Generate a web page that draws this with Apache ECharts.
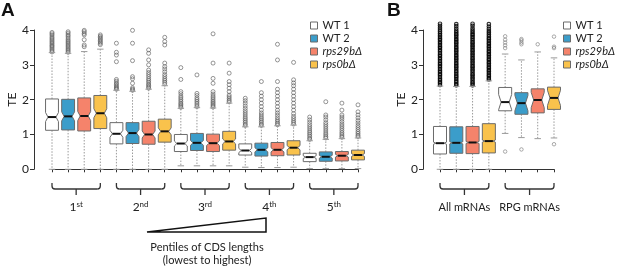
<!DOCTYPE html>
<html>
<head>
<meta charset="utf-8">
<script src="https://cdn.jsdelivr.net/npm/echarts@6/dist/echarts.min.js"></script>
<style>
html, body { margin: 0; padding: 0; background: #fff; }
#chart { width: 617px; height: 266px; }
</style>
</head>
<body>
<div id="chart"></div>
<script>
const genotypes = ['WT 1', 'WT 2', 'rps29bΔ', 'rps0bΔ'];
const groupsA = ['1st', '2nd', '3rd', '4th', '5th'];
const groupsB = ['All mRNAs', 'RPG mRNAs'];

// [lower whisker, Q1, median, Q3, upper whisker] for each group
const wt1A = [[0, 1.12, 1.5, 2.02, 3.35], [0, 0.73, 1.02, 1.34, 2.27], [0.1, 0.51, 0.74, 1.0, 1.75], [0.06, 0.41, 0.54, 0.73, 1.22], [0.02, 0.22, 0.35, 0.46, 0.82]];
const wt2A = [[0, 1.13, 1.52, 2.01, 3.33], [0, 0.74, 1.04, 1.34, 2.24], [0.1, 0.54, 0.76, 1.03, 1.77], [0.05, 0.38, 0.56, 0.75, 1.22], [0.02, 0.23, 0.36, 0.5, 0.86]];
const rps29A = [[0, 1.1, 1.53, 2.05, 3.38], [0, 0.72, 1.0, 1.38, 2.3], [0.1, 0.51, 0.75, 1.01, 1.76], [0.05, 0.39, 0.56, 0.77, 1.25], [0.02, 0.24, 0.39, 0.51, 0.88]];
const rps0A = [[0, 1.17, 1.61, 2.12, 3.45], [0, 0.78, 1.09, 1.44, 2.4], [0.1, 0.55, 0.8, 1.09, 1.9], [0.06, 0.41, 0.62, 0.82, 1.27], [0.02, 0.27, 0.41, 0.55, 0.9]];
const notchA = [0.13, 0.1, 0.07, 0.06, 0.04];

const wt1B = [[0, 0.44, 0.75, 1.23, 2.39], [1.03, 1.68, 1.93, 2.35, 3.31]];
const wt2B = [[0, 0.46, 0.76, 1.22, 2.38], [0.91, 1.58, 1.9, 2.2, 3.14]];
const rps29B = [[0, 0.45, 0.77, 1.23, 2.38], [0.88, 1.62, 1.99, 2.31, 3.37]];
const rps0B = [[0, 0.47, 0.81, 1.31, 2.54], [0.9, 1.72, 2.05, 2.36, 3.2]];
const notchB = [0.03, 0.22];

// outliers
const wt1OutA = [
  [3.37, 3.41, 3.45, 3.49, 3.53, 3.56, 3.6, 3.64, 3.68, 3.72, 3.76, 3.8, 3.85, 3.89, 3.93],
  [2.3, 2.33, 2.36, 2.4, 2.44, 2.48, 2.53, 2.58, 3.09, 3.28, 3.36, 3.62],
  [1.78, 1.82, 1.86, 1.9, 1.95, 2.0, 2.05, 2.1, 2.17, 2.23, 2.58, 2.92],
  [1.26, 1.3, 1.35, 1.4, 1.45, 1.5, 1.56, 1.62, 1.68, 1.75, 1.82, 1.9, 1.97, 2.04],
  [0.86, 0.9, 0.95, 1.0, 1.05, 1.1, 1.16, 1.22, 1.28, 1.35, 1.42, 1.5]
];
const wt2OutA = [
  [3.36, 3.4, 3.44, 3.48, 3.52, 3.56, 3.6, 3.64, 3.68, 3.72, 3.77, 3.82, 3.86, 3.91, 3.95],
  [2.27, 2.3, 2.34, 2.47, 2.6, 2.66, 3.12, 3.62, 3.99],
  [1.8, 1.85, 1.9, 1.95, 2.0, 2.05, 2.12, 2.18, 2.71],
  [1.26, 1.3, 1.35, 1.4, 1.45, 1.5, 1.56, 1.62, 1.7, 1.8, 1.9, 2.0, 2.1, 2.2, 2.52],
  [0.9, 0.94, 0.99, 1.04, 1.1, 1.16, 1.22, 1.28, 1.34, 1.42, 1.5, 1.56, 1.94]
];
const rps29OutA = [
  [3.52, 3.57, 3.72, 3.86, 3.9, 3.95, 3.99],
  [2.33, 2.37, 2.41, 2.45, 2.5, 2.55, 2.6, 2.66, 2.72, 2.78, 2.85, 3.0, 3.14, 3.33, 3.43],
  [1.79, 1.83, 1.87, 1.91, 1.95, 2.0, 2.05, 2.1, 2.16, 2.23, 2.47, 2.61, 3.05, 3.89],
  [1.28, 1.32, 1.37, 1.42, 1.48, 1.55, 1.62, 1.7, 1.8, 1.9, 2.0, 2.1, 2.2, 2.3, 2.52, 3.14, 3.59],
  [0.92, 0.96, 1.01, 1.06, 1.12, 1.18, 1.24, 1.3, 1.37, 1.44, 1.5, 1.56, 1.7, 1.9]
];
const rps0OutA = [
  [3.58, 3.62, 3.66, 3.7, 3.74, 3.78, 3.82, 3.86],
  [2.45, 2.5, 2.55, 2.6, 2.66, 2.72, 2.8, 2.88, 2.95, 3.05, 3.57, 3.67, 3.79],
  [1.94, 1.98, 2.03, 2.08, 2.13, 2.23, 2.33, 2.43, 2.52, 2.76, 3.05],
  [1.3, 1.35, 1.4, 1.46, 1.52, 1.6, 1.7, 1.8, 1.9, 2.0, 2.1, 2.2, 2.3, 2.4, 2.48, 2.57, 3.07],
  [0.94, 0.98, 1.03, 1.08, 1.14, 1.2, 1.26, 1.33, 1.4, 1.48, 1.56, 1.65, 1.85]
];
const wt1OutB = [
  [2.42, 2.47, 2.51, 2.56, 2.6, 2.65, 2.7, 2.74, 2.79, 2.83, 2.88, 2.93, 2.97, 3.02, 3.06, 3.11, 3.16, 3.2, 3.25, 3.29, 3.34, 3.39, 3.43, 3.48, 3.52, 3.57, 3.62, 3.66, 3.71, 3.75, 3.8, 3.85, 3.9, 3.95, 4.0, 4.06, 4.12, 4.18],
  [0.51, 3.48, 3.56, 3.64, 3.72, 3.82]
];
const wt2OutB = [
  [2.41, 2.45, 2.5, 2.54, 2.59, 2.64, 2.68, 2.73, 2.78, 2.82, 2.87, 2.92, 2.96, 3.01, 3.05, 3.1, 3.15, 3.19, 3.24, 3.28, 3.33, 3.38, 3.42, 3.47, 3.51, 3.56, 3.61, 3.65, 3.7, 3.74, 3.79, 3.84, 3.88, 3.93, 3.98, 4.04, 4.11, 4.17],
  [0.57, 3.59, 3.64, 3.7, 3.74]
];
const rps29OutB = [
  [2.41, 2.46, 2.5, 2.55, 2.6, 2.64, 2.69, 2.73, 2.78, 2.83, 2.87, 2.92, 2.96, 3.01, 3.06, 3.1, 3.15, 3.19, 3.24, 3.29, 3.33, 3.38, 3.42, 3.47, 3.52, 3.56, 3.61, 3.65, 3.7, 3.75, 3.8, 3.85, 3.89, 3.94, 3.99, 4.05, 4.12, 4.18],
  [3.59]
];
const rps0OutB = [
  [2.58, 2.62, 2.67, 2.71, 2.76, 2.81, 2.85, 2.9, 2.94, 2.99, 3.04, 3.08, 3.13, 3.17, 3.22, 3.27, 3.31, 3.36, 3.4, 3.45, 3.5, 3.54, 3.59, 3.63, 3.68, 3.73, 3.77, 3.82, 3.87, 3.92, 3.97, 4.03, 4.1, 4.17],
  [0.72, 3.48, 3.52, 3.81]
];

const statsA = [wt1A, wt2A, rps29A, rps0A];
const statsB = [wt1B, wt2B, rps29B, rps0B];
const outA = [wt1OutA, wt2OutA, rps29OutA, rps0OutA];
const outB = [wt1OutB, wt2OutB, rps29OutB, rps0OutB];

const fills = ['#ffffff', '#3b9dca', '#f5836b', '#f9c24c'];
const font = 'Lato';

const myChart = echarts.init(document.getElementById('chart'));

function renderBox(params, api) {
  const x = api.value(0);
  const m = api.value(3);
  const lo = api.coord([x, api.value(1)])[1];
  const q1 = api.coord([x, api.value(2)])[1];
  const md = api.coord([x, m])[1];
  const q3 = api.coord([x, api.value(4)])[1];
  const hi = api.coord([x, api.value(5)])[1];
  const nHi = api.coord([x, m + api.value(6)])[1];
  const nLo = api.coord([x, m - api.value(6)])[1];
  const cx = api.coord([x, m])[0];
  const hw = api.size([0.8, 0])[0] / 2;
  const l = cx - hw, r = cx + hw, d = hw * 0.38;
  const st = api.style();
  const wStyle = { stroke: '#9a9a9a', lineWidth: 1, lineDash: [1.5, 1.5] };
  const cStyle = { stroke: '#9a9a9a', lineWidth: 1 };
  return {
    type: 'group',
    children: [
      { type: 'line', shape: { x1: cx, y1: q3, x2: cx, y2: hi }, style: wStyle },
      { type: 'line', shape: { x1: cx, y1: q1, x2: cx, y2: lo }, style: wStyle },
      { type: 'line', shape: { x1: cx - hw / 2, y1: hi, x2: cx + hw / 2, y2: hi }, style: cStyle },
      { type: 'line', shape: { x1: cx - hw / 2, y1: lo, x2: cx + hw / 2, y2: lo }, style: cStyle },
      {
        type: 'polygon',
        shape: {
          points: [[l, q3], [r, q3], [r, nHi], [r - d, md], [r, nLo], [r, q1], [l, q1], [l, nLo], [l + d, md], [l, nHi]]
        },
        style: { fill: st.fill, stroke: '#6b6b6b', lineWidth: 1 }
      },
      { type: 'line', shape: { x1: l + d, y1: md, x2: r - d, y2: md }, style: { stroke: '#111', lineWidth: 2 } }
    ]
  };
}

let series = [];
genotypes.forEach((g, i) => {
  series.push({
    name: g,
    type: 'custom',
    xAxisIndex: 0,
    yAxisIndex: 0,
    renderItem: renderBox,
    itemStyle: { color: fills[i] },
    encode: { x: 0, y: [1, 2, 3, 4, 5] },
    data: statsA[i].map((s, k) => [1 + 4 * k + i].concat(s, [notchA[k]]))
  });
  series.push({
    name: g,
    type: 'custom',
    xAxisIndex: 1,
    yAxisIndex: 1,
    renderItem: renderBox,
    itemStyle: { color: fills[i] },
    encode: { x: 0, y: [1, 2, 3, 4, 5] },
    data: statsB[i].map((s, k) => [1 + 4 * k + i].concat(s, [notchB[k]]))
  });
});

// outlier points; keep = list of group indexes to take
function outlierPoints(list, keep) {
  let pts = [];
  list.forEach((geno, i) => {
    geno.forEach((vals, k) => {
      if (keep.indexOf(k) < 0) return;
      vals.forEach(v => pts.push([1 + 4 * k + i, v]));
    });
  });
  return pts;
}

const lightOut = { color: 'rgba(255,255,255,0)', borderColor: '#5a5a5a', borderWidth: 0.8 };
series.push({
  type: 'scatter', xAxisIndex: 0, yAxisIndex: 0, symbol: 'circle', symbolSize: 4,
  itemStyle: lightOut, data: outlierPoints(outA, [0, 1, 2, 3, 4]), clip: false, silent: true, z: 1
});
series.push({
  type: 'scatter', xAxisIndex: 1, yAxisIndex: 1, symbol: 'circle', symbolSize: 3.5,
  itemStyle: { color: 'rgba(255,255,255,0)', borderColor: '#000', borderWidth: 1.2 },
  data: outlierPoints(outB, [0]), clip: false, silent: true, z: 1
});
series.push({
  type: 'scatter', xAxisIndex: 1, yAxisIndex: 1, symbol: 'circle', symbolSize: 3.5,
  itemStyle: { color: 'rgba(255,255,255,0)', borderColor: '#7a7a7a', borderWidth: 0.8 },
  data: outlierPoints(outB, [1]), clip: false, silent: true, z: 1
});

function xAxis(idx, max) {
  return {
    gridIndex: idx, type: 'value', min: 1, max: max, interval: 1, offset: 5,
    splitLine: { show: false },
    axisLine: { lineStyle: { color: '#333' } },
    axisTick: { length: 3, lineStyle: { color: '#333' } },
    axisLabel: { show: false }
  };
}
function yAxis(idx, offset) {
  return {
    gridIndex: idx, type: 'value', min: 0, max: 4, interval: 1, offset: offset,
    splitLine: { show: false },
    axisLine: { show: true, lineStyle: { color: '#333' } },
    axisTick: { show: true, length: 4, lineStyle: { color: '#333' } },
    axisLabel: { fontFamily: font, fontSize: 12, color: '#222', margin: 5 },
    name: 'TE', nameLocation: 'middle', nameGap: 13,
    nameTextStyle: { fontFamily: font, fontSize: 12, color: '#222' }
  };
}

function legend(left) {
  return {
    left: left, top: 19, orient: 'vertical', icon: 'rect', padding: 0,
    itemWidth: 7, itemHeight: 7, itemGap: 0, selectedMode: false,
    data: genotypes.map((g, i) => ({ name: g, itemStyle: { color: fills[i], borderColor: '#6b6b6b', borderWidth: 1 } })),
    formatter: n => n.indexOf('rps') === 0 ? '{i|' + n + '}' : n,
    textStyle: {
      fontFamily: font, fontSize: 11, lineHeight: 13, color: '#222', overflow: 'none',
      rich: { i: { fontFamily: font, fontSize: 11, fontStyle: 'italic', color: '#222' } }
    }
  };
}

let option = {
  animation: false,
  grid: [
    { left: 52, width: 306, top: 30, height: 139.3 },
    { left: 440, width: 114, top: 30, height: 139.3 }
  ],
  xAxis: [xAxis(0, 20), xAxis(1, 8)],
  yAxis: [yAxis(0, 18), yAxis(1, 17)],
  legend: [legend(310), legend(563)],
  series: series
};
myChart.setOption(option);

// braces, group labels and notes under the axes
const bStyle = { fill: 'none', stroke: '#333', lineWidth: 1.3 };
function brace(grid, x1, x2) {
  const l = myChart.convertToPixel({ gridIndex: grid }, [x1, 0])[0];
  const r = myChart.convertToPixel({ gridIndex: grid }, [x2, 0])[0];
  const c = (l + r) / 2;
  return [
    { type: 'line', shape: { x1: l, y1: 183, x2: l, y2: 186 }, style: bStyle },
    { type: 'bezierCurve', shape: { x1: l, y1: 186, cpx1: l, cpy1: 189, x2: l + 3, y2: 189 }, style: bStyle },
    { type: 'line', shape: { x1: l + 3, y1: 189, x2: r - 3, y2: 189 }, style: bStyle },
    { type: 'bezierCurve', shape: { x1: r - 3, y1: 189, cpx1: r, cpy1: 189, x2: r, y2: 186 }, style: bStyle },
    { type: 'line', shape: { x1: r, y1: 186, x2: r, y2: 183 }, style: bStyle },
    { type: 'line', shape: { x1: c, y1: 189, x2: c, y2: 195 }, style: bStyle }
  ];
}
function label(grid, x1, x2, txt, size) {
  const l = myChart.convertToPixel({ gridIndex: grid }, [x1, 0])[0];
  const r = myChart.convertToPixel({ gridIndex: grid }, [x2, 0])[0];
  return {
    type: 'text',
    style: {
      x: (l + r) / 2, y: 207, text: txt, align: 'center', verticalAlign: 'middle',
      fontFamily: font, fontSize: size, fill: '#222',
      rich: {
        n: { fontFamily: font, fontSize: 12, fill: '#222' },
        s: { fontFamily: font, fontSize: 8, fill: '#222', verticalAlign: 'top', padding: [0, 0, 5, 0] }
      }
    }
  };
}

let graphic = [];
groupsA.forEach((g, k) => {
  graphic = graphic.concat(brace(0, 1 + 4 * k, 4 + 4 * k));
  graphic.push(label(0, 1 + 4 * k, 4 + 4 * k, '{n|' + g.slice(0, 1) + '}{s|' + g.slice(1) + '}', 12));
});
groupsB.forEach((g, k) => {
  graphic = graphic.concat(brace(1, 1 + 4 * k, 4 + 4 * k));
  graphic.push(label(1, 1 + 4 * k, 4 + 4 * k, g, 11));
});
graphic.push({
  type: 'polygon',
  shape: { points: [[147, 232], [266, 218], [266, 232]] },
  style: { fill: 'none', stroke: '#111', lineWidth: 1.5 }
});
graphic.push({
  type: 'text',
  style: { x: 207, y: 247, text: 'Pentiles of CDS lengths', align: 'center', verticalAlign: 'middle', fontFamily: font, fontSize: 11, fill: '#222' }
});
graphic.push({
  type: 'text',
  style: { x: 207, y: 260, text: '(lowest to highest)', align: 'center', verticalAlign: 'middle', fontFamily: font, fontSize: 11, fill: '#222' }
});
graphic.push({
  type: 'text',
  style: { x: 1, y: 1, text: 'A', fontFamily: 'Liberation Sans', fontSize: 19, fontWeight: 'bold', fill: '#111' }
});
graphic.push({
  type: 'text',
  style: { x: 387, y: 1, text: 'B', fontFamily: 'Liberation Sans', fontSize: 19, fontWeight: 'bold', fill: '#111' }
});
myChart.setOption({ graphic: graphic });

window.addEventListener('resize', () => {
  myChart.resize();
});
</script>
</body>
</html>
